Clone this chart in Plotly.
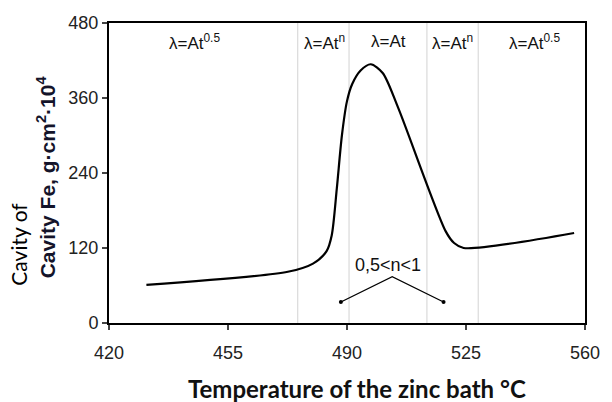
import plotly.graph_objects as go

# Curve data (temperature °C, cavity value)
temp = [431.0, 472.6, 480.0, 484.0, 485.5, 487.0, 488.5, 490.0, 491.5, 494.0, 497.0,
        500.5, 505.0, 519.0, 521.5, 524.3, 556.8]
cavity = [61, 82, 95, 115, 140, 215, 300, 355, 382, 404, 414,
          400, 345, 147, 128, 120, 144]

# Region boundaries (vertical gray lines)
boundaries = [475.5, 490.6, 513.5, 528.6]

# Region labels
region_x = [445.0, 483.3, 502.2, 521.1, 545.2]
region_text = ["λ=At<sup>0.5</sup>", "λ=At<sup>n</sup>", "λ=At", "λ=At<sup>n</sup>", "λ=At<sup>0.5</sup>"]

# Bracket marker for "0,5<n<1"
bracket_x = [488.2, 503.3, 518.4]
bracket_y = [33.6, 74, 33.6]

x_ticks = [420, 455, 490, 525, 560]
y_ticks = [0, 120, 240, 360, 480]

FONT = "Arial"

fig = go.Figure()

fig.add_trace(go.Scatter(x=temp, y=cavity, mode="lines",
                         line=dict(color="black", width=2.2, shape="spline", smoothing=0.8),
                         showlegend=False, hoverinfo="skip"))

fig.add_trace(go.Scatter(x=bracket_x, y=bracket_y, mode="lines",
                         line=dict(color="black", width=1.3), showlegend=False, hoverinfo="skip"))
fig.add_trace(go.Scatter(x=[bracket_x[0], bracket_x[2]], y=[bracket_y[0], bracket_y[2]], mode="markers",
                         marker=dict(color="black", size=4), showlegend=False, hoverinfo="skip"))

for b in boundaries:
    fig.add_shape(type="line", xref="x", yref="paper", x0=b, x1=b, y0=0, y1=1,
                  line=dict(color="#dadada", width=1.2), layer="below")

for xv, t in zip(region_x, region_text):
    fig.add_annotation(x=xv, y=450, xref="x", yref="y", text=t, showarrow=False,
                       font=dict(family=FONT, size=17, color="#111"))

fig.add_annotation(x=502.0, y=93, xref="x", yref="y", text="0,5<n<1", showarrow=False,
                   font=dict(family=FONT, size=18, color="#111"))

# Y-axis title (overlapping labels as in the reference)
fig.add_annotation(x=-0.133, y=0.488, xref="paper", yref="paper", xanchor="center", yanchor="middle",
                   text="<b>Cavity Fe, g·cm<sup>2</sup>·10<sup>4</sup></b>", textangle=-90, showarrow=False,
                   font=dict(family=FONT, size=21, color="#14142a"))
fig.add_annotation(x=-0.19, y=0.263, xref="paper", yref="paper", xanchor="center", yanchor="middle",
                   text="Cavity of", textangle=-90, showarrow=False, bgcolor="white", borderpad=5,
                   font=dict(family="Lato", size=21, color="black"))

# X-axis title
fig.add_annotation(x=0.52, y=-0.217, xref="paper", yref="paper", xanchor="center", yanchor="middle",
                   text="<b>Temperature of the zinc bath °C</b>", showarrow=False,
                   font=dict(family="Lato", size=24, color="#111"))

fig.update_layout(
    width=612, height=402,
    margin=dict(l=109, r=21, t=23, b=79),
    plot_bgcolor="white", paper_bgcolor="white",
    xaxis=dict(range=[420, 560], tickvals=x_ticks, ticks="outside", ticklen=5, tickwidth=1.5,
               ticklabelstandoff=7,
               showline=True, linecolor="black", linewidth=2, mirror=True, showgrid=False, zeroline=False,
               tickfont=dict(family=FONT, size=18, color="#222")),
    yaxis=dict(range=[0, 480], tickvals=y_ticks, ticks="outside", ticklen=5, tickwidth=1.5,
               showline=True, linecolor="black", linewidth=2, mirror=True, showgrid=False, zeroline=False,
               tickfont=dict(family=FONT, size=18, color="#222")),
)

fig.write_html("out.html")
